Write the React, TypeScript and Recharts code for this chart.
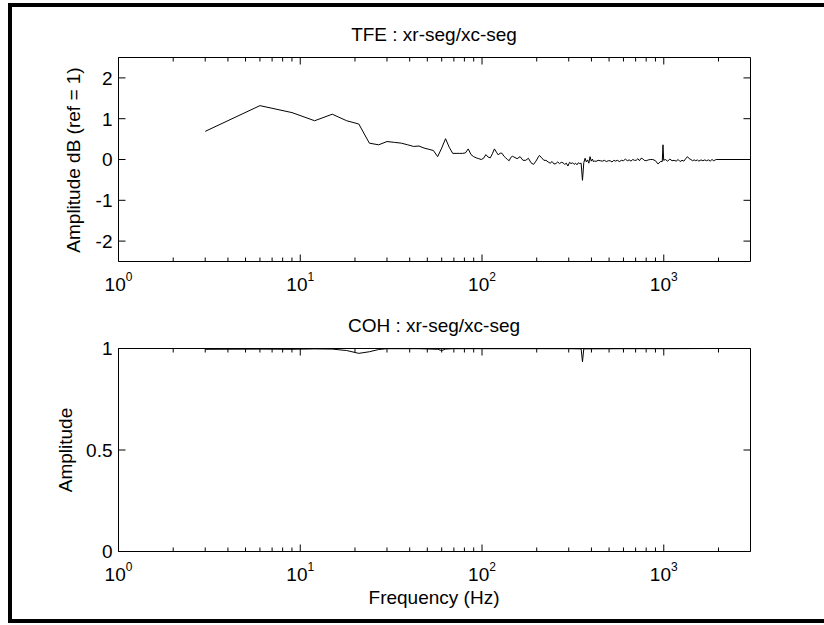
import React from 'react';
import { LineChart, Line, XAxis, YAxis } from 'recharts';

// TFE : xr-seg/xc-seg (Hz, dB)
const tfeFreq = [
  3, 6, 9, 12, 15, 18, 21, 24, 27, 30, 33, 36, 39, 42, 45, 48, 51, 54, 57, 60,
  63, 66, 69, 72, 75, 78, 81, 84, 87, 90, 93, 96, 99, 102, 105, 108, 111, 114, 117, 120,
  123, 126, 129, 132, 135, 138, 141, 144, 147, 150, 156, 162, 168, 174, 180, 186, 192, 198, 204, 207,
  213, 219, 225, 231, 237, 243, 249, 255, 261, 267, 273, 279, 285, 291, 297, 303, 309, 315, 321, 327,
  333, 339, 345, 351, 357, 363, 369, 375, 381, 387, 393, 399, 405, 411, 417, 423, 435, 447, 459, 471,
  483, 495, 507, 519, 531, 543, 555, 570, 585, 600, 615, 630, 645, 660, 675, 690, 705, 720, 735, 750,
  765, 780, 801, 822, 843, 870, 900, 930, 960, 981, 990, 999, 1020, 1050, 1080, 1110, 1140, 1170, 1200, 1230,
  1260, 1290, 1320, 1350, 1380, 1410, 1440, 1470, 1500, 1530, 1560, 1602, 1641, 1680, 1719, 1761, 1800, 1842, 1881, 1920,
  1941, 3000,
];
const tfeDb = [
  0.69, 1.32, 1.15, 0.95, 1.11, 0.95, 0.87, 0.40, 0.36, 0.44, 0.42, 0.40, 0.36, 0.32, 0.33, 0.28, 0.25, 0.22, 0.07, 0.28,
  0.51, 0.30, 0.15, 0.15, 0.15, 0.15, 0.16, 0.26, 0.12, 0.07, 0.04, 0.02, 0.00, 0.03, 0.12, 0.06, 0.04, 0.14, 0.26, 0.18,
  0.11, 0.16, 0.15, 0.08, 0.04, 0.00, -0.03, 0.05, 0.08, 0.06, 0.02, 0.07, -0.02, -0.02, 0.03, -0.08, -0.12, -0.04, 0.06, 0.10,
  0.04, -0.02, -0.02, -0.06, -0.09, -0.05, -0.11, -0.10, -0.06, -0.10, -0.07, -0.08, -0.12, -0.09, -0.16, -0.07, -0.10, -0.08, -0.12, -0.09,
  -0.13, -0.08, -0.10, -0.09, -0.51, -0.08, 0.03, -0.06, -0.01, -0.09, 0.07, -0.04, 0.01, -0.06, -0.03, -0.05, -0.02, -0.03, -0.04, -0.02,
  -0.05, -0.03, -0.03, -0.06, -0.02, -0.04, -0.02, -0.05, -0.02, -0.03, 0.01, -0.03, -0.01, -0.04, 0.00, -0.02, -0.02, 0.02, -0.03, 0.03,
  0.02, -0.02, -0.03, -0.01, 0.00, 0.00, -0.03, -0.11, -0.05, -0.05, 0.36, -0.02, 0.00, -0.04, 0.01, -0.03, -0.02, -0.04, 0.00, -0.05,
  -0.02, -0.04, 0.02, 0.07, 0.02, 0.00, -0.03, -0.01, -0.03, -0.01, -0.04, -0.01, -0.03, -0.01, -0.03, -0.01, -0.04, 0.00, -0.03, -0.01,
  0.00, 0.00,
];

// COH : xr-seg/xc-seg
const cohFreq = [3, 6, 9, 12, 15, 18, 21, 24, 27, 30, 45, 57, 60, 63, 69, 150, 300, 351, 357, 363, 600, 1000, 1941, 3000];
const cohAmp = [
  0.996, 0.997, 0.996, 0.998, 0.997, 0.99, 0.976, 0.984, 0.995, 0.999, 0.999, 0.996, 0.99, 0.997, 0.999, 0.999,
  0.999, 0.998, 0.935, 0.998, 0.999, 0.999, 1.0, 1.0,
];

const decades = [1, 10, 100, 1000];
const freqTicks = [
  1, 2, 3, 4, 5, 6, 7, 8, 9, 10, 20, 30, 40, 50, 60, 70, 80, 90,
  100, 200, 300, 400, 500, 600, 700, 800, 900, 1000, 2000,
];
const dbTicks = [-2, -1, 0, 1, 2];
const ampTicks = [0, 0.5, 1];

const FONT = '"Liberation Sans", Arial, Helvetica, sans-serif';

const tfeData = tfeFreq.map((f, i) => ({ f, v: tfeDb[i] }));
const cohData = cohFreq.map((f, i) => ({ f, v: cohAmp[i] }));

const BottomTick = (p: any) => {
  const { x, y, payload } = p;
  const major = decades.includes(payload.value);
  return (
    <g>
      <line x1={x} x2={x} y1={y} y2={y - (major ? 7 : 4)} stroke="#000" />
      {major && (
        <text x={x} y={y + 29.5} textAnchor="middle" fontFamily={FONT} fontSize={19} fill="#000">
          10
          <tspan dy={-10} fontSize={12}>
            {Math.round(Math.log10(payload.value))}
          </tspan>
        </text>
      )}
    </g>
  );
};

const TopTick = (p: any) => {
  const { x, y, payload } = p;
  const major = decades.includes(payload.value);
  return <line x1={x} x2={x} y1={y} y2={y + (major ? 7 : 4)} stroke="#000" />;
};

const LeftTick = (p: any) => {
  const { x, y, payload } = p;
  return (
    <g>
      <line x1={x} x2={x + 7} y1={y} y2={y} stroke="#000" />
      <text x={x - 6} y={y} dy="0.36em" textAnchor="end" fontFamily={FONT} fontSize={19} fill="#000">
        {payload.value}
      </text>
    </g>
  );
};

const RightTick = (p: any) => {
  const { x, y } = p;
  return <line x1={x} x2={x - 7} y1={y} y2={y} stroke="#000" />;
};

const Panel = ({ data, domain, ticks, margin, height }: any) => (
  <LineChart width={824} height={height} data={data} margin={margin}>
    <XAxis
      xAxisId="b"
      dataKey="f"
      type="number"
      scale="log"
      domain={[1, 3000]}
      allowDataOverflow
      ticks={freqTicks}
      interval={0}
      height={1}
      tickSize={0}
      tickMargin={0}
      tickLine={false}
      axisLine={{ stroke: '#000' }}
      tick={BottomTick}
    />
    <XAxis
      xAxisId="t"
      orientation="top"
      dataKey="f"
      type="number"
      scale="log"
      domain={[1, 3000]}
      allowDataOverflow
      ticks={freqTicks}
      interval={0}
      height={1}
      tickSize={0}
      tickMargin={0}
      tickLine={false}
      axisLine={{ stroke: '#000' }}
      tick={TopTick}
    />
    <YAxis
      yAxisId="l"
      type="number"
      domain={domain}
      allowDataOverflow
      ticks={ticks}
      interval={0}
      width={1}
      tickSize={0}
      tickMargin={0}
      tickLine={false}
      axisLine={{ stroke: '#000' }}
      tick={LeftTick}
    />
    <YAxis
      yAxisId="r"
      orientation="right"
      type="number"
      domain={domain}
      allowDataOverflow
      ticks={ticks}
      interval={0}
      width={1}
      tickSize={0}
      tickMargin={0}
      tickLine={false}
      axisLine={{ stroke: '#000' }}
      tick={RightTick}
    />
    <Line
      xAxisId="b"
      yAxisId="l"
      type="linear"
      dataKey="v"
      stroke="#000"
      strokeWidth={1}
      dot={false}
      isAnimationActive={false}
    />
  </LineChart>
);

const textStyle = { fontFamily: FONT, fontSize: 19, fill: '#000' };

export default function App() {
  return (
    <div style={{ position: 'absolute', left: 0, top: 0, width: 824, height: 625, background: '#fff', overflow: 'hidden' }}>
      {/* figure frame */}
      <div style={{ position: 'absolute', left: 8, top: 3, width: 816, height: 4, background: '#000' }} />
      <div style={{ position: 'absolute', left: 8, top: 3, width: 4, height: 620, background: '#000' }} />
      <div style={{ position: 'absolute', left: 8, top: 619, width: 816, height: 4, background: '#000' }} />

      <div style={{ position: 'absolute', left: 0, top: 0 }}>
        <Panel
          data={tfeData}
          domain={[-2.5, 2.5]}
          ticks={dbTicks}
          height={300}
          margin={{ top: 56.5, right: 72.5, bottom: 37.5, left: 117.5 }}
        />
      </div>
      <div style={{ position: 'absolute', left: 0, top: 300 }}>
        <Panel
          data={cohData}
          domain={[0, 1]}
          ticks={ampTicks}
          height={325}
          margin={{ top: 47.5, right: 72.5, bottom: 72.5, left: 117.5 }}
        />
      </div>

      <svg width={824} height={625} style={{ position: 'absolute', left: 0, top: 0, pointerEvents: 'none' }}>
        <text x={434} y={41} textAnchor="middle" {...textStyle}>
          TFE : xr-seg/xc-seg
        </text>
        <text x={434} y={332} textAnchor="middle" {...textStyle}>
          COH : xr-seg/xc-seg
        </text>
        <text x={434} y={603.5} textAnchor="middle" {...textStyle}>
          Frequency (Hz)
        </text>
        <text x={80} y={160} textAnchor="middle" transform="rotate(-90 80 160)" {...textStyle}>
          Amplitude dB (ref = 1)
        </text>
        <text x={72} y={450} textAnchor="middle" transform="rotate(-90 72 450)" {...textStyle}>
          Amplitude
        </text>
      </svg>
    </div>
  );
}
